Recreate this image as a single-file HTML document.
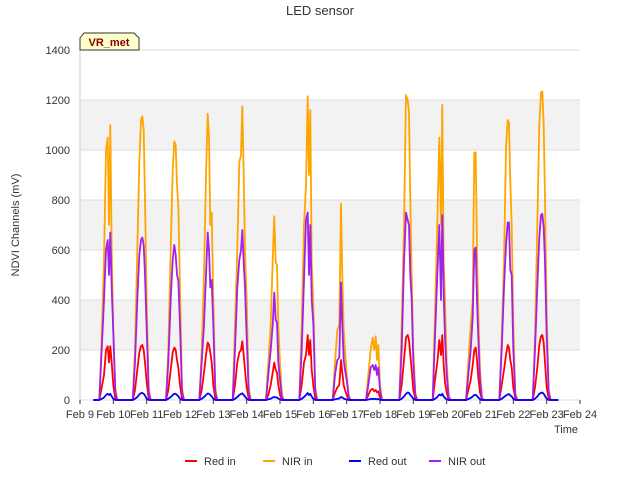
<!DOCTYPE html>
<html><head><meta charset="utf-8"><style>
body{margin:0;background:#fff;font-family:"Liberation Sans",sans-serif;}
svg text{font-family:"Liberation Sans",sans-serif;}
</style></head><body>
<svg id="chart" width="640" height="480">
<rect width="640" height="480" fill="#fff"/>
<g id="grid"></g>
<g id="series"></g>
<g id="axes"></g>
<text x="320" y="15" text-anchor="middle" font-size="13" fill="#333">LED sensor</text>
<text transform="translate(19,225) rotate(-90)" text-anchor="middle" font-size="11" fill="#333">NDVI Channels (mV)</text>
<text x="566" y="433" text-anchor="middle" font-size="11" fill="#333">Time</text>
<g>
<path d="M80,50 L80,38 L84,33 L134,33 L139,38 L139,50 Z" fill="#ffffcc" stroke="#333" stroke-width="1"/>
<text x="109" y="46" text-anchor="middle" font-size="11" font-weight="bold" fill="#8b0000">VR_met</text>
</g>
<g id="legend"></g>
</svg>
<script>
const xTicks=["Feb 9","Feb 10","Feb 11","Feb 12","Feb 13","Feb 14","Feb 15","Feb 16","Feb 17","Feb 18","Feb 19","Feb 20","Feb 21","Feb 22","Feb 23","Feb 24"];
const yTicks=[0,200,400,600,800,1000,1200,1400];
const days=[9,10,11,12,13,14,15,16,17,18,19,20,21,22];
const offsets=[0.58,0.65,0.72,0.78,0.83,0.87,0.91,0.95,1.0,1.06,1.12];
const nirIn=[
[0,250,560,1000,1050,700,1100,600,280,50,0],
[0,200,600,950,1120,1135,1080,800,400,50,0],
[0,200,600,920,1035,1020,860,780,450,50,0],
[0,200,500,900,1145,1050,700,750,400,50,0],
[0,300,600,950,980,1175,900,600,400,50,0],
[0,150,300,560,735,550,540,300,150,20,0],
[0,300,700,860,1215,900,1160,550,380,50,0],
[0,150,280,300,785,500,280,200,100,20,0],
[0,100,200,250,200,255,160,220,60,0,0],
[0,300,700,1220,1200,1150,800,500,200,30,0],
[0,350,700,1050,700,1180,550,400,150,20,0],
[0,150,300,400,990,990,600,350,120,10,0],
[0,250,550,1010,1120,1110,870,700,300,30,0],
[0,250,700,1100,1230,1235,1100,800,350,40,0]];
const nirOut=[
[0,200,400,600,640,500,670,450,270,30,0],
[0,150,400,580,640,650,620,500,280,30,0],
[0,150,400,560,620,580,500,480,300,30,0],
[0,150,300,500,670,600,450,480,300,30,0],
[0,200,450,560,600,680,550,450,250,30,0],
[0,100,200,300,430,320,310,150,80,10,0],
[0,200,480,720,750,500,700,400,310,30,0],
[0,100,160,170,470,300,160,120,80,10,0],
[0,60,130,140,120,140,100,130,40,0,0],
[0,200,550,750,720,700,500,400,150,20,0],
[0,250,500,700,400,740,420,250,100,10,0],
[0,100,200,330,600,610,400,250,80,5,0],
[0,200,450,620,710,710,520,500,200,20,0],
[0,200,450,650,740,745,690,550,250,30,0]];
const redIn=[
[0,50,100,200,215,150,215,150,60,5,0],
[0,40,120,190,215,220,200,150,70,5,0],
[0,40,120,190,210,200,160,130,60,5,0],
[0,40,110,180,230,220,190,150,60,5,0],
[0,60,150,190,200,235,180,120,50,5,0],
[0,20,60,110,150,120,110,60,20,0,0],
[0,60,150,180,260,180,240,120,60,5,0],
[0,30,50,60,160,110,60,40,20,0,0],
[0,20,40,45,35,40,30,35,10,0,0],
[0,60,160,250,260,240,180,120,40,5,0],
[0,80,150,240,180,260,140,70,30,0,0],
[0,40,80,140,200,210,160,90,30,0,0],
[0,60,120,180,220,210,160,130,50,5,0],
[0,50,130,220,255,260,230,150,50,5,0]];
const redOut=[
[0,5,10,20,25,20,25,15,5,0,0],
[0,5,12,22,28,28,25,18,5,0,0],
[0,5,12,20,25,25,20,15,5,0,0],
[0,5,12,20,26,25,20,15,5,0,0],
[0,5,12,20,24,27,20,14,5,0,0],
[0,3,5,10,12,10,10,6,2,0,0],
[0,5,12,20,28,20,25,14,5,0,0],
[0,3,5,6,12,10,6,4,2,0,0],
[0,2,4,5,4,5,3,4,1,0,0],
[0,5,14,25,30,28,20,14,5,0,0],
[0,5,12,22,18,25,14,8,3,0,0],
[0,4,8,14,20,21,16,10,3,0,0],
[0,5,12,18,22,24,18,14,5,0,0],
[0,5,14,25,28,30,25,16,5,0,0]];
const startDay=9.4, endDay=23.35;
const NS="http://www.w3.org/2000/svg";
const X0=80,X1=580,Y0=400,Y1=50;
function xs(d){return X0+(d-9)/15*(X1-X0);}
function ys(v){return Y0-v/1400*(Y0-Y1);}
function mk(t,a,p){const e=document.createElementNS(NS,t);for(const k in a)e.setAttribute(k,a[k]);p.appendChild(e);return e;}
const grid=document.getElementById('grid');
for(let i=0;i<yTicks.length-1;i++){
 if(i%2===1){const r=mk('rect',{x:X0,y:ys(yTicks[i+1]),width:X1-X0,height:ys(yTicks[i])-ys(yTicks[i+1]),fill:'#f2f2f2'},grid);
 
 }
}
const axes=document.getElementById('axes');
yTicks.forEach(v=>{
 const l=mk('line',{x1:X0,x2:X1,y1:ys(v),y2:ys(v),stroke:'#ddd','stroke-width':1},grid);
 
 
 const t=mk('text',{x:X0-10,y:ys(v)+4,'text-anchor':'end','font-size':11,fill:'#333'},axes);
 t.textContent=v;
 
 
});
xTicks.forEach((s,i)=>{
 const x=xs(9+i);
 mk('line',{x1:x,x2:x,y1:Y0,y2:Y0+4,stroke:'#333'},axes);
 const t=mk('text',{x:x,y:Y0+18,'text-anchor':'middle','font-size':11,fill:'#333'},axes);
 t.textContent=s;
 
 
});
const ax=mk('line',{x1:X0,x2:X0,y1:Y1,y2:Y0,stroke:'#ccc'},axes);


const series=[["Red in",redIn,"#ff0000"],["NIR in",nirIn,"#ffa500"],["Red out",redOut,"#0000ff"],["NIR out",nirOut,"#a020f0"]];
const sg=document.getElementById('series');
[series[1],series[0],series[3],series[2]].forEach(([name,data,col])=>{
 let pts=[[xs(startDay),ys(0)]];
 days.forEach((d,i)=>{offsets.forEach((o,j)=>pts.push([xs(d+o),ys(data[i][j])]));});
 pts.push([xs(endDay),ys(0)]);
 const p=mk('polyline',{points:pts.map(p=>p[0].toFixed(1)+','+p[1].toFixed(1)).join(' '),fill:'none',stroke:col,'stroke-width':1.8,'stroke-linejoin':'round'},sg);
 
 
});
const lg=document.getElementById('legend');
const lx=[185,263,349,429];
series.forEach(([name,d,col],i)=>{
 const g=mk('g',{},lg);
 
 
 mk('line',{x1:lx[i],x2:lx[i]+12,y1:461,y2:461,stroke:col,'stroke-width':2},g);
 const t=mk('text',{x:lx[i]+19,y:465,'font-size':11,fill:'#333'},g);
 t.textContent=name;
});
</script>
</body></html>
